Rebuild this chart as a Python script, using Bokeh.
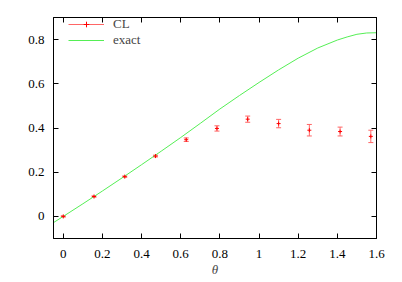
from bokeh.plotting import figure
from bokeh.models import (ColumnDataSource, Whisker, TeeHead, LinearAxis, FixedTicker,
                          Legend, LegendItem, Range1d)
from bokeh.embed import file_html
from bokeh.resources import INLINE

# ---- data ----
theta_cl = [0.0, 0.157, 0.314, 0.471, 0.628, 0.785, 0.942, 1.100, 1.257, 1.414, 1.571]
cl       = [0.000, 0.090, 0.180, 0.273, 0.347, 0.398, 0.440, 0.420, 0.390, 0.384, 0.362]
cl_err   = [0.003, 0.003, 0.003, 0.004, 0.008, 0.012, 0.014, 0.019, 0.026, 0.020, 0.028]

theta_exact = [-0.05, 0.0, 0.1, 0.2, 0.3, 0.4, 0.5, 0.6, 0.7, 0.8, 0.9, 1.0,
               1.1, 1.2, 1.3, 1.4, 1.45, 1.5, 1.55, 1.6]
exact       = [-0.028, 0.0, 0.057, 0.115, 0.174, 0.234, 0.295, 0.357, 0.421, 0.486, 0.547, 0.606,
               0.663, 0.716, 0.762, 0.798, 0.812, 0.824, 0.830, 0.831]

x_ticks = [0, 0.2, 0.4, 0.6, 0.8, 1.0, 1.2, 1.4, 1.6]
x_tick_labels = ["0", "0.2", "0.4", "0.6", "0.8", "1", "1.2", "1.4", "1.6"]
y_ticks = [0, 0.2, 0.4, 0.6, 0.8]
y_tick_labels = ["0", "0.2", "0.4", "0.6", "0.8"]

FONT = "Liberation Serif, serif"
FS = "13px"

p = figure(width=400, height=282, output_backend="svg", toolbar_location=None,
           x_range=Range1d(-0.05, 1.6), y_range=Range1d(-0.1, 0.9),
           min_border_left=53, min_border_right=24, min_border_top=17, min_border_bottom=44)
p.grid.visible = False
p.outline_line_color = "black"
p.outline_line_width = 1

src_cl = ColumnDataSource(dict(x=theta_cl, y=cl,
                               lo=[v - e for v, e in zip(cl, cl_err)],
                               hi=[v + e for v, e in zip(cl, cl_err)]))
src_ex = ColumnDataSource(dict(x=theta_exact, y=exact))

ex_r = p.line("x", "y", source=src_ex, line_color="#55ee55", line_width=1)

wh = Whisker(source=src_cl, base="x", lower="lo", upper="hi",
             line_color="#ff6666", line_width=1,
             upper_head=TeeHead(size=5, line_color="#ff6666", line_width=1),
             lower_head=TeeHead(size=5, line_color="#ff6666", line_width=1))
p.add_layout(wh)
pts = p.scatter("x", "y", source=src_cl, marker="cross", size=4, line_color="red", line_width=1)

# legend sample for CL: horizontal line + cross (zero-length, invisible in the plot)
leg_line_vis = p.segment(x0=[0], y0=[0], x1=[0], y1=[0], line_color="#ff6666", line_width=1)

def style_axis(ax):
    ax.major_tick_in = 5
    ax.major_tick_out = 0
    ax.minor_tick_line_color = None
    ax.axis_line_color = "black"
    ax.major_tick_line_color = "black"
    ax.major_label_text_font = FONT
    ax.major_label_text_font_size = FS
    ax.major_label_text_color = "black"

style_axis(p.xaxis[0])
style_axis(p.yaxis[0])
p.xaxis.ticker = FixedTicker(ticks=x_ticks)
p.yaxis.ticker = FixedTicker(ticks=y_ticks)
p.xaxis.major_label_overrides = dict(zip(x_ticks, x_tick_labels))
p.yaxis.major_label_overrides = dict(zip(y_ticks, y_tick_labels))
p.xaxis.major_label_standoff = 11
p.yaxis.major_label_standoff = 9
p.xaxis.axis_label = "θ"
p.xaxis.axis_label_text_font = FONT
p.xaxis.axis_label_text_font_style = "italic"
p.xaxis.axis_label_text_font_size = FS
p.xaxis.axis_label_standoff = 1

# mirrored tick marks on top and right (no labels painted)
for loc, ticks in (("above", x_ticks), ("right", y_ticks)):
    ax = LinearAxis(ticker=FixedTicker(ticks=ticks))
    style_axis(ax)
    ax.major_label_text_font_size = "1px"
    ax.major_label_text_color = None
    ax.major_label_standoff = 0
    p.add_layout(ax, loc)

legend = Legend(items=[LegendItem(label="CL", renderers=[leg_line_vis, pts]),
                       LegendItem(label="exact", renderers=[ex_r])],
                location=(15, 190), margin=0, padding=0, spacing=0,
                glyph_width=36, glyph_height=14, label_height=14, label_standoff=9,
                label_text_font=FONT, label_text_font_size=FS,
                border_line_alpha=0, background_fill_alpha=0)
p.add_layout(legend)

open("out.html", "w").write(file_html(p, INLINE))
